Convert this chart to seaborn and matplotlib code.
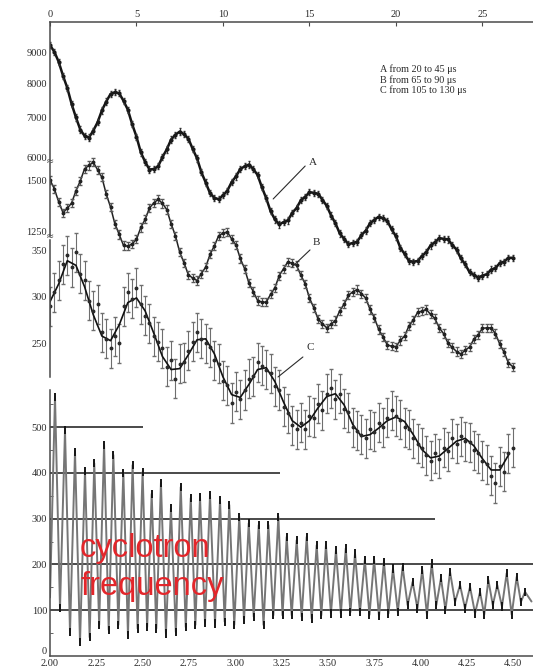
import numpy as np
import pandas as pd
import matplotlib
matplotlib.use("Agg")
import matplotlib.pyplot as plt
import matplotlib.transforms as mtransforms
import seaborn as sns

sns.set_theme(style="white")
plt.rcParams["font.family"] = ["Liberation Serif", "DejaVu Serif"]

# ---------------- data ----------------
sample_step = 0.25          # time between plotted samples (top panels)
fit_step = 0.5

a_counts = [9250, 9020, 8680, 8230, 7850, 7380, 7010, 6690, 6530,
            6490, 6660, 6880, 7200, 7450, 7670, 7720,
            7690, 7470, 7220, 6830, 6510, 6130, 5910, 5740,
            5750, 5810, 6020, 6200, 6440, 6560, 6640,
            6570, 6460, 6210, 5990, 5680, 5460, 5240, 5150,
            5120, 5200, 5290, 5470, 5590, 5750, 5810,
            5850, 5750, 5620, 5360, 5140, 4890, 4740, 4650,
            4690, 4720, 4860, 4950, 5100, 5170, 5260, 5250,
            5230, 5110, 4990, 4810, 4670, 4490, 4400, 4310,
            4330, 4350, 4460, 4540, 4670, 4730, 4790,
            4760, 4710, 4560, 4440, 4250, 4150, 4040, 4030,
            4040, 4120, 4180, 4290, 4340, 4410, 4400,
            4390, 4300, 4220, 4080, 3990, 3870, 3830, 3790,
            3820, 3840, 3910, 3930, 4010, 4030, 4090, 4090]

b_counts = [1505, 1462, 1398, 1345, 1366, 1392, 1452, 1500, 1560, 1576, 1592, 1555,
            1518, 1436, 1372, 1290, 1238, 1184, 1180, 1192, 1214, 1272, 1312, 1368,
            1392, 1410, 1390, 1360, 1290, 1232, 1150, 1098, 1040, 1024, 1012, 1046,
            1078, 1140, 1182, 1232, 1244, 1250, 1216, 1186, 1120, 1070, 998, 958,
            914, 906, 906, 944, 976, 1036, 1070, 1104, 1096, 1086, 1038, 996,
            926, 878, 822, 800, 780, 798, 816, 864, 896, 940, 956, 968,
            948, 926, 870, 830, 772, 736, 696, 690, 688, 718, 740, 790,
            818, 856, 862, 870, 846, 826, 780, 752, 706, 684, 664, 652,
            670, 686, 724, 746, 778, 780, 780, 752, 700, 660, 608, 590]

c_counts = [290, 305, 318, 335, 345, 332, 348, 325, 318, 296, 285, 292,
            262, 255, 245, 258, 250, 290, 305, 298, 310, 292, 280, 272,
            258, 252, 245, 225, 232, 212, 228, 230, 242, 252, 262, 255,
            250, 246, 232, 228, 210, 205, 186, 198, 190, 200, 212, 215,
            230, 226, 222, 218, 204, 200, 182, 175, 162, 158, 165, 158,
            172, 170, 185, 178, 196, 202, 190, 196, 180, 176, 160, 156,
            152, 148, 158, 155, 165, 160, 170, 178, 172, 168, 160, 158,
            148, 142, 138, 130, 124, 132, 126, 138, 134, 148, 142, 150,
            145, 144, 135, 132, 124, 120, 108, 100, 118, 112, 132, 138]

c_fit = [295, 314, 339, 334, 311, 281, 258, 253, 270, 294,
         299, 285, 261, 236, 222, 223, 238, 254, 255, 239,
         214, 195, 192, 206, 222, 224, 209, 187, 167, 160,
         167, 181, 193, 196, 184, 163, 150, 152, 159, 167,
         171, 166, 152, 136, 127, 129, 137, 145, 148, 140,
         126, 114, 114, 130]

a_err_frac = 0.012
b_err = 20
c_err = 21

# bottom panel: cyclotron oscillation (time in microseconds)
osc_start = (2.0, 128)
osc_end = (4.60, 119)
peak_t = [2.027, 2.081, 2.135, 2.189, 2.239, 2.292, 2.342, 2.396, 2.446, 2.500,
          2.549, 2.599, 2.653, 2.706, 2.760, 2.810, 2.864, 2.918, 2.968, 3.022,
          3.073, 3.127, 3.179, 3.233, 3.278, 3.332, 3.386, 3.440, 3.490, 3.544,
          3.597, 3.647, 3.700, 3.750, 3.803, 3.852, 3.904, 3.958, 4.010, 4.061,
          4.111, 4.160, 4.214, 4.268, 4.322, 4.367, 4.415, 4.466, 4.520, 4.565]
peak_v = [566, 493, 446, 404, 421, 461, 439, 400, 417, 402,
          354, 378, 323, 369, 345, 347, 351, 341, 330, 304,
          290, 286, 286, 304, 260, 253, 260, 242, 242, 231,
          235, 224, 210, 210, 206, 191, 195, 162, 188, 202,
          170, 184, 155, 151, 140, 166, 155, 181, 173, 140]
trough_v = [105, 52, 30, 41, 68, 57, 68, 46, 60, 63,
            60, 49, 52, 63, 68, 72, 71, 75, 68, 78,
            86, 68, 89, 89, 89, 86, 82, 89, 93, 93,
            96, 96, 90, 87, 93, 96, 111, 104, 90, 111,
            100, 118, 104, 93, 90, 111, 108, 90, 118]

top_ticks = [0, 5, 10, 15, 20, 25]
a_ticks = [6000, 7000, 8000, 9000]
b_ticks = [1250, 1500]
c_ticks = [250, 300, 350]
osc_xticks = [2.00, 2.25, 2.50, 2.75, 3.00, 3.25, 3.50, 3.75, 4.00, 4.25, 4.50]
osc_yticks = [0, 100, 200, 300, 400, 500]
ref_levels = [500, 400, 300, 200, 100]
ref_ends = [2.50, 3.24, 4.08, 4.61, 4.61]
legend_lines = ["A from 20 to 45 \u03bcs", "B from 65 to 90 \u03bcs", "C from 105 to 130 \u03bcs"]
red_lines = ["cyclotron", "frequency"]

# ---------------- figure ----------------
W, H = 533, 670
fig = plt.figure(figsize=(W / 100, H / 100), dpi=100)
fig.patch.set_facecolor("white")

ink = "#2a2a2a"
axis_col = "#4a4a4a"
tick_fs = 7.5

up_rect = [50 / W, 1 - 520 / H, 483 / W, (520 - 22) / H]
axA = fig.add_axes(up_rect, label="A")
axB = fig.add_axes(up_rect, label="B")
axC = fig.add_axes(up_rect, label="C")
for ax in (axA, axB, axC):
    ax.patch.set_visible(False)
    ax.set_xlim(0, 27.92)
    for s in ax.spines.values():
        s.set_visible(False)
    ax.spines["left"].set_visible(True)
    ax.spines["left"].set_color(axis_col)
    ax.spines["left"].set_linewidth(1.1)
    ax.tick_params(axis="y", direction="in", length=3, width=0.8, colors=axis_col,
                   labelsize=tick_fs, labelcolor=ink, pad=2)

axA.set_yscale("log")
axA.set_ylim(1495, 10111)
axB.set_ylim(-162, 2279.4)
axC.set_ylim(60.2, 595.7)

axA.spines["top"].set_visible(True)
axA.spines["top"].set_color(axis_col)
axA.spines["top"].set_linewidth(1.1)
axA.xaxis.set_ticks_position("top")
axA.set_xticks(top_ticks)
axA.set_xticklabels([str(t) for t in top_ticks])
axA.tick_params(axis="x", direction="in", length=3, width=0.8, colors=axis_col,
                labelsize=tick_fs, labelcolor=ink, pad=2, top=True, bottom=False,
                labeltop=True, labelbottom=False)
axB.set_xticks([])
axC.set_xticks([])

axA.set_yticks(a_ticks)
axA.set_yticklabels([str(t) for t in a_ticks])
axA.yaxis.set_minor_locator(matplotlib.ticker.NullLocator())
axB.set_yticks(b_ticks)
axB.set_yticklabels([str(t) for t in b_ticks])
axC.set_yticks(c_ticks)
axC.set_yticklabels([str(t) for t in c_ticks])

axA.spines["left"].set_bounds(5930, 10111)
axB.spines["left"].set_bounds(1232, 1588)
axC.spines["left"].set_bounds(214, 361)

# break marks on the left axis
for ax, yv in ((axA, 5930), (axB, 1232)):
    tr = mtransforms.blended_transform_factory(ax.transAxes, ax.transData)
    ax.text(0.0, yv, "\u2248", transform=tr, ha="center", va="center",
            fontsize=7, color=axis_col, family="DejaVu Sans")

# series A
tA = np.arange(len(a_counts)) * sample_step
dfA = pd.DataFrame({"t": tA, "n": a_counts})
sns.lineplot(data=dfA, x="t", y="n", ax=axA, color="#151515", lw=1.8)
axA.errorbar(dfA["t"], dfA["n"], yerr=dfA["n"] * a_err_frac, fmt="o", ms=2.0,
             color="#1a1a1a", ecolor="#333333", elinewidth=0.8, capsize=1.0)

# series B
tB = np.arange(len(b_counts)) * sample_step
dfB = pd.DataFrame({"t": tB, "n": b_counts})
sns.lineplot(data=dfB, x="t", y="n", ax=axB, color="#222222", lw=1.1)
axB.errorbar(dfB["t"], dfB["n"], yerr=b_err, fmt="o", ms=1.8,
             color="#222222", ecolor="#5a5a5a", elinewidth=0.8, capsize=1.2)

# series C
tC = np.arange(len(c_counts)) * sample_step
dfC = pd.DataFrame({"t": tC, "n": c_counts})
axC.errorbar(dfC["t"], dfC["n"], yerr=c_err, fmt="o", ms=1.8,
             color="#2a2a2a", ecolor="#6e6e6e", elinewidth=0.8, capsize=1.2)
tCf = np.arange(len(c_fit)) * fit_step
sns.lineplot(x=tCf, y=c_fit, ax=axC, color="#111111", lw=1.2)

for ax in (axA, axB, axC):
    ax.set_xlabel("")
    ax.set_ylabel("")

# curve labels with leader lines
axA.plot([12.9, 14.75], [5126, 5817], color=ink, lw=0.8)
axA.text(14.95, 5900, "A", fontsize=8, color=ink, ha="left", va="center")
axB.plot([13.99, 15.03], [1078, 1162], color=ink, lw=0.8)
axB.text(15.2, 1200, "B", fontsize=8, color=ink, ha="left", va="center")
axC.plot([13.18, 14.62], [214, 235.5], color=ink, lw=0.8)
axC.text(14.85, 246, "C", fontsize=8, color=ink, ha="left", va="center")

fig.text(380 / W, 1 - 64 / H, "\n".join(legend_lines), fontsize=7.3, color=ink,
         ha="left", va="top", linespacing=1.15)

# ---------------- bottom panel ----------------
axD = fig.add_axes([50 / W, 1 - 656 / H, 483 / W, (656 - 390) / H])
axD.patch.set_visible(False)
axD.set_xlim(2.0, 4.608)
axD.set_ylim(0, 581)
for s in ("top", "right"):
    axD.spines[s].set_visible(False)
for s in ("left", "bottom"):
    axD.spines[s].set_color(axis_col)
    axD.spines[s].set_linewidth(1.1)

trough_t = [(peak_t[i] + peak_t[i + 1]) / 2 for i in range(len(peak_t) - 1)]
ext_t = [osc_start[0]]
ext_v = [osc_start[1]]
for i in range(len(peak_t)):
    ext_t.append(peak_t[i]); ext_v.append(peak_v[i])
    if i < len(trough_v):
        ext_t.append(trough_t[i]); ext_v.append(trough_v[i])
ext_t.append(osc_end[0]); ext_v.append(osc_end[1])
dfD = pd.DataFrame({"t": ext_t, "n": ext_v})

axD.hlines(ref_levels, 2.0, ref_ends, color="#3a3a3a", lw=1.3)
sns.lineplot(data=dfD, x="t", y="n", ax=axD, color="#767676", lw=1.4, sort=False)
axD.errorbar(peak_t, peak_v, yerr=9, fmt="none", ecolor="#151515", elinewidth=1.4)
axD.errorbar(trough_t, trough_v, yerr=9, fmt="none", ecolor="#151515", elinewidth=1.4)
axD.set_xlabel("")
axD.set_ylabel("")

axD.set_xticks(osc_xticks)
axD.set_xticklabels([f"{v:.2f}" for v in osc_xticks])
axD.set_yticks(osc_yticks)
axD.set_yticklabels([str(v) for v in osc_yticks])
axD.yaxis.set_minor_locator(matplotlib.ticker.MultipleLocator(50))
axD.tick_params(axis="both", which="major", direction="in", length=3, width=0.8,
                colors=axis_col, labelsize=tick_fs, labelcolor=ink, pad=2)
axD.tick_params(axis="y", which="minor", direction="in", length=2, width=0.6,
                colors=axis_col, left=True)
# lift the "0" label so it sits above the "2.00" label as in the original
axD.get_yticklabels()[0].set_verticalalignment("bottom")

axD.text(2.162, 216, red_lines[0], fontsize=23.5, color="#e3262b", ha="left",
         va="baseline", family=["Liberation Sans", "DejaVu Sans"])
axD.text(2.162, 133, red_lines[1], fontsize=23.5, color="#e3262b", ha="left",
         va="baseline", family=["Liberation Sans", "DejaVu Sans"])

fig.savefig("out.png", dpi=100, facecolor="white")
